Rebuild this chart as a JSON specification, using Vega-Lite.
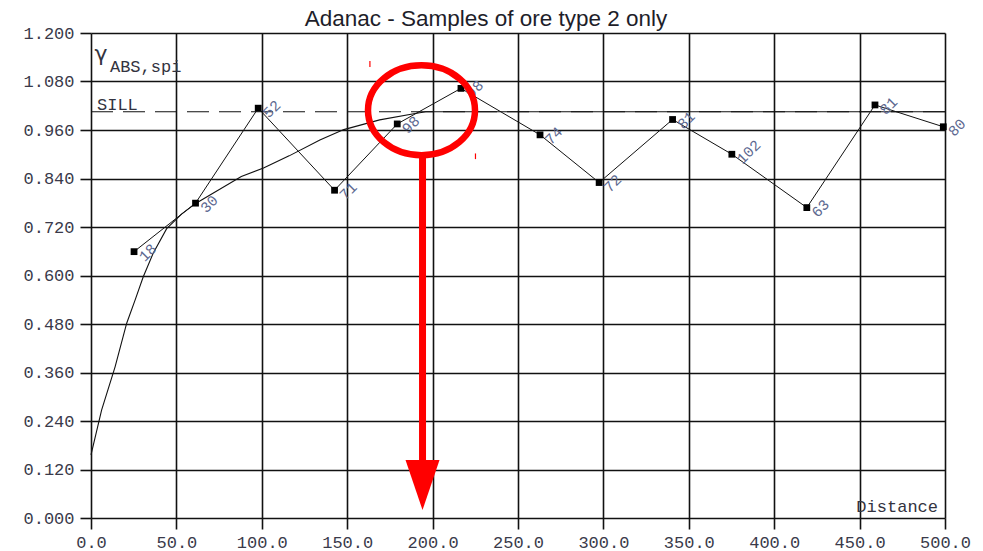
{
  "$schema": "https://vega.github.io/schema/vega-lite/v6.json",
  "width": 854,
  "height": 485,
  "autosize": {"type": "none"},
  "padding": {"left": 91, "top": 33, "right": 38, "bottom": 33},
  "background": "white",
  "title": {
    "text": "Adanac - Samples of ore type 2 only",
    "frame": "group",
    "anchor": "middle",
    "dx": -32,
    "offset": -24,
    "baseline": "alphabetic",
    "font": "Liberation Sans",
    "fontSize": 22.5,
    "fontWeight": "normal",
    "color": "#1e1e2a"
  },
  "config": {
    "view": {"stroke": null},
    "axis": {
      "gridColor": "#111111",
      "gridWidth": 1.6,
      "gridOpacity": 1,
      "tickColor": "#111111",
      "tickWidth": 1.6,
      "labelFont": "Liberation Mono",
      "labelFontSize": 17,
      "labelColor": "#3a3a4a"
    }
  },
  "datasets": {
    "model": [
      {"d": 0, "g": 0.156}, {"d": 6.2, "g": 0.267}, {"d": 14.1, "g": 0.374}, {"d": 20.9, "g": 0.482},
      {"d": 25.8, "g": 0.539}, {"d": 30.6, "g": 0.597}, {"d": 36.4, "g": 0.655}, {"d": 44.3, "g": 0.716},
      {"d": 53.0, "g": 0.752}, {"d": 61.5, "g": 0.779}, {"d": 88, "g": 0.845}, {"d": 101, "g": 0.866},
      {"d": 116, "g": 0.896}, {"d": 134, "g": 0.935}, {"d": 148, "g": 0.961}, {"d": 169, "g": 0.985},
      {"d": 189, "g": 1.0}, {"d": 196, "g": 1.005}, {"d": 500, "g": 1.005}
    ],
    "exp": [
      {"d": 25.2, "g": 0.659, "n": "18"},
      {"d": 61.2, "g": 0.779, "n": "30"},
      {"d": 97.9, "g": 1.014, "n": "52"},
      {"d": 142.6, "g": 0.811, "n": "71"},
      {"d": 179.3, "g": 0.975, "n": "98"},
      {"d": 216.6, "g": 1.063, "n": "98"},
      {"d": 262.9, "g": 0.948, "n": "74"},
      {"d": 297.5, "g": 0.830, "n": "72"},
      {"d": 340.5, "g": 0.986, "n": "81"},
      {"d": 375.2, "g": 0.900, "n": "102"},
      {"d": 419.1, "g": 0.768, "n": "63"},
      {"d": 459.0, "g": 1.022, "n": "81"},
      {"d": 499.0, "g": 0.968, "n": "80"}
    ],
    "sill": [{"g": 1.005}],
    "serif": [{"d": 2.0, "g": 1.131, "t": "γ"}],
    "mono": [
      {"d": 11.1, "g": 1.1034, "t": "ABS,spi", "a": "left"},
      {"d": 3.5, "g": 1.0104, "t": "SILL", "a": "left"}
    ],
    "dist": [{"d": 495.9, "g": 0.0156, "t": "Distance"}],
    "circle": [{"d": 193.5, "g": 1.009}],
    "stem": [{"d": 194.1, "g": 0.891, "g2": 0.135}],
    "head": [{"d": 194.1, "g": 0.0816}],
    "ticks": [
      {"d": 163.3, "g": 1.131, "g2": 1.116},
      {"d": 225.1, "g": 0.902, "g2": 0.888}
    ]
  },
  "layer": [
    {
      "data": {"name": "model"},
      "mark": {"type": "line", "color": "#111111", "strokeWidth": 1.1},
      "encoding": {
        "x": {
          "field": "d", "type": "quantitative",
          "scale": {"domain": [0, 500], "nice": false, "zero": false},
          "axis": {
            "values": [0, 50, 100, 150, 200, 250, 300, 350, 400, 450, 500],
            "format": ".1f", "title": null, "grid": true, "domain": false,
            "labelFlush": false, "labelOverlap": false, "labelBound": false,
            "tickSize": 11, "labelPadding": 5
          }
        },
        "y": {
          "field": "g", "type": "quantitative",
          "scale": {"domain": [0, 1.2], "nice": false, "zero": false},
          "axis": {
            "values": [0, 0.12, 0.24, 0.36, 0.48, 0.6, 0.72, 0.84, 0.96, 1.08, 1.2],
            "format": ".3f", "title": null, "grid": true, "domain": false,
            "labelFlush": false, "labelOverlap": false, "labelBound": false,
            "tickSize": 11, "labelPadding": 6
          }
        }
      }
    },
    {
      "data": {"name": "sill"},
      "mark": {"type": "rule", "color": "#111111", "strokeWidth": 1.1, "strokeDash": [22, 10]},
      "encoding": {"y": {"field": "g", "type": "quantitative"}}
    },
    {
      "data": {"name": "exp"},
      "mark": {"type": "line", "color": "#111111", "strokeWidth": 1},
      "encoding": {
        "x": {"field": "d", "type": "quantitative"},
        "y": {"field": "g", "type": "quantitative"}
      }
    },
    {
      "data": {"name": "exp"},
      "mark": {"type": "point", "shape": "square", "filled": true, "color": "#000000", "size": 46, "opacity": 1},
      "encoding": {
        "x": {"field": "d", "type": "quantitative"},
        "y": {"field": "g", "type": "quantitative"}
      }
    },
    {
      "data": {"name": "exp"},
      "mark": {"type": "text", "angle": -45, "align": "left", "baseline": "alphabetic", "dx": 0, "dy": 15, "font": "Liberation Mono", "fontSize": 15, "color": "#5c6890"},
      "encoding": {
        "x": {"field": "d", "type": "quantitative"},
        "y": {"field": "g", "type": "quantitative"},
        "text": {"field": "n"}
      }
    },
    {
      "data": {"name": "serif"},
      "mark": {"type": "text", "align": "left", "baseline": "alphabetic", "font": "DejaVu Sans", "fontSize": 22, "color": "#333340"},
      "encoding": {
        "x": {"field": "d", "type": "quantitative"},
        "y": {"field": "g", "type": "quantitative"},
        "text": {"field": "t"}
      }
    },
    {
      "data": {"name": "mono"},
      "mark": {"type": "text", "align": "left", "baseline": "alphabetic", "font": "Liberation Mono", "fontSize": 17, "color": "#333340"},
      "encoding": {
        "x": {"field": "d", "type": "quantitative"},
        "y": {"field": "g", "type": "quantitative"},
        "text": {"field": "t"}
      }
    },
    {
      "data": {"name": "dist"},
      "mark": {"type": "text", "align": "right", "baseline": "alphabetic", "font": "Liberation Mono", "fontSize": 17, "color": "#333340"},
      "encoding": {
        "x": {"field": "d", "type": "quantitative"},
        "y": {"field": "g", "type": "quantitative"},
        "text": {"field": "t"}
      }
    },
    {
      "data": {"name": "ticks"},
      "mark": {"type": "rule", "color": "#ff0000", "strokeWidth": 1.2},
      "encoding": {
        "x": {"field": "d", "type": "quantitative"},
        "y": {"field": "g", "type": "quantitative"},
        "y2": {"field": "g2"}
      }
    },
    {
      "data": {"name": "stem"},
      "mark": {"type": "rule", "color": "#ff0000", "strokeWidth": 7},
      "encoding": {
        "x": {"field": "d", "type": "quantitative"},
        "y": {"field": "g", "type": "quantitative"},
        "y2": {"field": "g2"}
      }
    },
    {
      "data": {"name": "head"},
      "mark": {"type": "point", "shape": "M -0.68 -1 L 0.68 -1 L 0 1 Z", "filled": true, "color": "#ff0000", "size": 2500, "opacity": 1},
      "encoding": {
        "x": {"field": "d", "type": "quantitative"},
        "y": {"field": "g", "type": "quantitative"}
      }
    },
    {
      "data": {"name": "circle"},
      "mark": {"type": "point", "shape": "M -1 0 A 1 0.84 0 1 0 1 0 A 1 0.84 0 1 0 -1 0 Z", "filled": false, "stroke": "#ff0000", "strokeWidth": 6.5, "size": 11449, "opacity": 1},
      "encoding": {
        "x": {"field": "d", "type": "quantitative"},
        "y": {"field": "g", "type": "quantitative"}
      }
    }
  ]
}
